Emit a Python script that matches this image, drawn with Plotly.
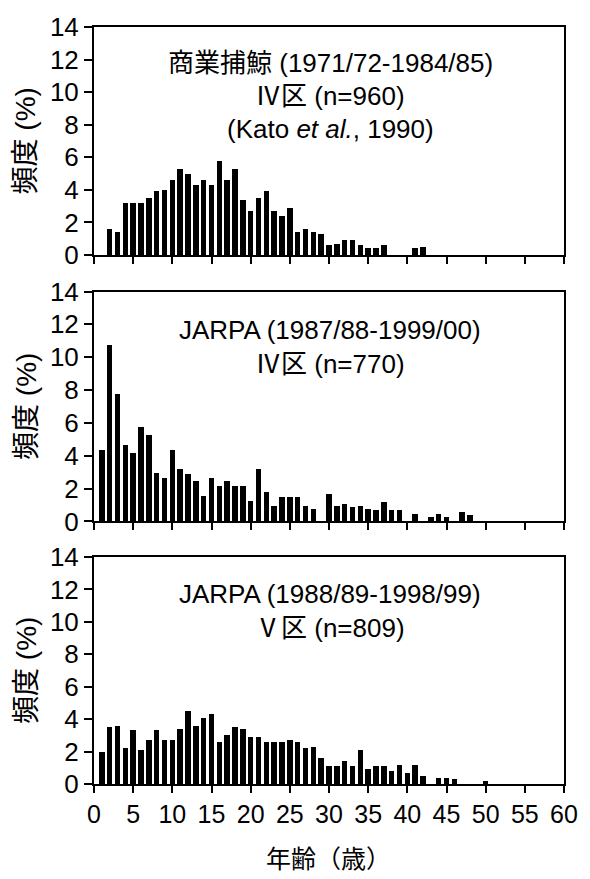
import plotly.graph_objects as go

# ---------------- data ----------------
ages1 = list(range(2, 43))
freq1 = [1.6, 1.4, 3.2, 3.2, 3.2, 3.5, 3.9, 4.0, 4.6, 5.3,
         5.0, 4.3, 4.6, 4.3, 5.8, 4.6, 5.3, 3.4, 2.7, 3.5,
         3.9, 2.7, 2.4, 2.9, 1.4, 1.6, 1.4, 1.3, 0.6, 0.7,
         0.9, 0.9, 0.6, 0.4, 0.4, 0.6, 0.0, 0.0, 0.0, 0.4,
         0.5]

ages2 = list(range(1, 49))
freq2 = [4.4, 10.8, 7.8, 4.7, 4.2, 5.8, 5.3, 3.0, 2.7, 4.4,
         3.2, 2.9, 2.5, 1.6, 2.7, 2.2, 2.5, 2.2, 2.2, 1.3,
         3.2, 1.8, 1.0, 1.5, 1.5, 1.5, 1.0, 0.8, 0.0, 1.7,
         1.0, 1.1, 0.9, 1.0, 0.8, 0.7, 1.2, 0.7, 0.7, 0.0,
         0.5, 0.0, 0.3, 0.5, 0.3, 0.0, 0.6, 0.4]

ages3 = list(range(1, 51))
freq3 = [2.0, 3.5, 3.6, 2.2, 3.3, 2.1, 2.7, 3.3, 2.7, 2.7,
         3.4, 4.5, 3.6, 4.1, 4.3, 2.6, 3.0, 3.5, 3.4, 2.9,
         2.9, 2.6, 2.6, 2.6, 2.7, 2.6, 2.2, 2.3, 1.6, 1.1,
         1.1, 1.4, 1.1, 2.1, 0.9, 1.1, 1.1, 0.8, 1.2, 0.7,
         1.2, 0.5, 0.0, 0.4, 0.4, 0.3, 0.0, 0.0, 0.0, 0.2]

x_ticks = list(range(0, 61, 5))
y_ticks = list(range(0, 15, 2))

panel_texts = [
    ["商業捕鯨 (1971/72-1984/85)", "Ⅳ区 (n=960)", "(Kato <i>et al.</i>, 1990)"],
    ["JARPA (1987/88-1999/00)", "Ⅳ区 (n=770)"],
    ["JARPA (1988/89-1998/99)", "Ⅴ区 (n=809)"],
]
y_title = "頻度 (%)"
x_title = "年齢（歳）"

# ---------------- layout geometry (pixels) ----------------
W, H = 590, 879
L, R, T, B = 94, 23, 17, 95
plot_h = H - T - B
panel_px = [(17, 248), (285, 518), (554, 784)]  # top, bottom


def py(ypix):
    return (H - B - ypix) / plot_h


FONT = "Liberation Sans, Arial, Noto Sans CJK JP, sans-serif"

fig = go.Figure()
series = [(ages1, freq1), (ages2, freq2), (ages3, freq3)]
for i, (a, f) in enumerate(series):
    n = i + 1
    fig.add_trace(go.Bar(x=a, y=f, width=0.7, marker_color="black",
                         marker_line_width=0, showlegend=False,
                         xaxis="x" if n == 1 else f"x{n}",
                         yaxis="y" if n == 1 else f"y{n}"))

axis_common = dict(showline=True, linecolor="black", linewidth=2, mirror=True,
                   ticks="outside", tickcolor="black", tickwidth=2,
                   showgrid=False, zeroline=False)

for i, (top, bot) in enumerate(panel_px):
    n = i + 1
    xk = "xaxis" if n == 1 else f"xaxis{n}"
    yk = "yaxis" if n == 1 else f"yaxis{n}"
    fig.update_layout(**{
        xk: dict(axis_common, range=[0, 60], tickvals=x_ticks, ticklen=7,
                 showticklabels=(n == 3),
                 tickfont=dict(family=FONT, size=25, color="black"),
                 anchor="y" if n == 1 else f"y{n}", domain=[0, 1]),
        yk: dict(axis_common, range=[0, 14], tickvals=y_ticks, ticklen=8,
                 tickfont=dict(family=FONT, size=26, color="black"),
                 anchor="x" if n == 1 else f"x{n}",
                 domain=[py(bot), py(top)]),
    })
    # y-axis title (rotated)
    fig.add_annotation(text=y_title, xref="paper", yref="paper",
                       x=(26 - L) / (W - L - R), y=py((top + bot) / 2),
                       textangle=-90, showarrow=False,
                       font=dict(family=FONT, size=28, color="black"),
                       xanchor="center", yanchor="middle")

text_y = [[53, 87, 120], [324, 358], [591, 626]]
for i, lines in enumerate(panel_texts):
    for j, t in enumerate(lines):
        fig.add_annotation(text=t, xref="paper", yref="paper",
                           x=(332 - L) / (W - L - R), y=py(text_y[i][j]),
                           showarrow=False, xanchor="center", yanchor="middle",
                           font=dict(family=FONT, size=26, color="black"))

fig.add_annotation(text=x_title, xref="paper", yref="paper",
                   x=(330 - L) / (W - L - R), y=py(860),
                   showarrow=False, xanchor="center", yanchor="middle",
                   font=dict(family=FONT, size=25, color="black"))

fig.update_layout(width=W, height=H, margin=dict(l=L, r=R, t=T, b=B),
                  plot_bgcolor="white", paper_bgcolor="white", bargap=0)

fig.write_html("out.html")
